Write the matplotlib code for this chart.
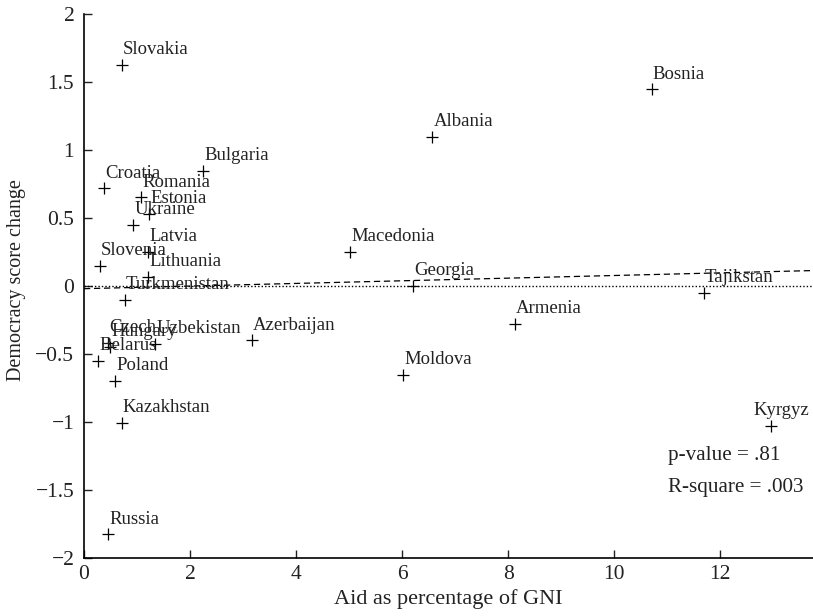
import matplotlib
matplotlib.use("Agg")
import matplotlib.pyplot as plt
from matplotlib.ticker import FuncFormatter

plt.rcParams['font.family'] = ['Liberation Serif', 'DejaVu Serif']

# values
countries = ["Slovakia", "Bosnia", "Albania", "Bulgaria", "Croatia", "Romania",
             "Estonia", "Ukraine", "Latvia", "Slovenia", "Lithuania", "Macedonia",
             "Georgia", "Turkmenistan", "Tajikstan", "Armenia", "Czech", "Hungary",
             "Uzbekistan", "Azerbaijan", "Belarus", "Poland", "Moldova",
             "Kazakhstan", "Kyrgyz", "Russia"]
aid_gni = [0.71, 10.71, 6.57, 2.25, 0.38, 1.08,
           1.23, 0.93, 1.21, 0.30, 1.21, 5.02,
           6.21, 0.77, 11.69, 8.13, 0.46, 0.50,
           1.34, 3.16, 0.27, 0.59, 6.02,
           0.71, 12.96, 0.46]
dem_change = [1.625, 1.446, 1.098, 0.848, 0.718, 0.652,
              0.529, 0.449, 0.252, 0.147, 0.064, 0.25,
              0.0, -0.10, -0.049, -0.279, -0.42, -0.45,
              -0.426, -0.40, -0.549, -0.70, -0.654,
              -1.005, -1.03, -1.826]

# fitted line
fit_intercept = -0.02
fit_slope = 0.0097

p_text = "p-value = .81"
r_text = "R-square = .003"

x_ticks = [0, 2, 4, 6, 8, 10, 12]
y_ticks = [-2, -1.5, -1, -0.5, 0, 0.5, 1, 1.5, 2]

fig = plt.figure(figsize=(8.13, 6.16), dpi=100)
ax = fig.add_axes([0.1033, 0.0942, 0.8967, 0.8831])

xmin, xmax = 0, 13.75
ax.set_xlim(xmin, xmax)
ax.set_ylim(-2, 2)

ax.plot(aid_gni, dem_change, linestyle="none", marker="+", markersize=8,
        markeredgewidth=0.9, color="black")

# label offsets in points (some moved by hand in the original)
label_shift = {"Kyrgyz": -13.5}
for name, x, y in zip(countries, aid_gni, dem_change):
    ax.annotate(name, (x, y), xytext=(0.8 + label_shift.get(name, 0), 11),
                textcoords="offset points", ha="left", va="center",
                fontsize=13.5, color="#222222")

ax.plot([xmin, xmax], [fit_intercept + fit_slope * xmin, fit_intercept + fit_slope * xmax],
        linestyle=(0, (5, 3)), color="black", linewidth=0.9)
ax.axhline(0, linestyle=(0, (1, 1.5)), color="black", linewidth=1.0)

ax.text(0.801, 0.189, p_text, transform=ax.transAxes, ha="left", va="center",
        fontsize=15.2, color="#222222")
ax.text(0.801, 0.129, r_text, transform=ax.transAxes, ha="left", va="center",
        fontsize=15.2, color="#222222")

ax.spines["top"].set_visible(False)
ax.spines["right"].set_visible(False)
for s in ["left", "bottom"]:
    ax.spines[s].set_linewidth(1.2)
ax.set_xticks(x_ticks)
ax.set_yticks(y_ticks)
fmt = FuncFormatter(lambda v, pos: ("%g" % v).replace("-", "\u2212"))
ax.yaxis.set_major_formatter(fmt)
ax.xaxis.set_major_formatter(fmt)
ax.tick_params(direction="in", length=6, width=1, labelsize=15.5, colors="#222222")
ax.tick_params(axis="x", pad=5)
ax.tick_params(axis="y", pad=7)

ax.set_xlabel("Aid as percentage of GNI", fontsize=16, color="#222222", labelpad=4)
ax.set_ylabel("Democracy score change", fontsize=14.5, color="#222222")
ax.yaxis.set_label_coords(-0.08, 0.51)

fig.savefig("out.png", dpi=100)
